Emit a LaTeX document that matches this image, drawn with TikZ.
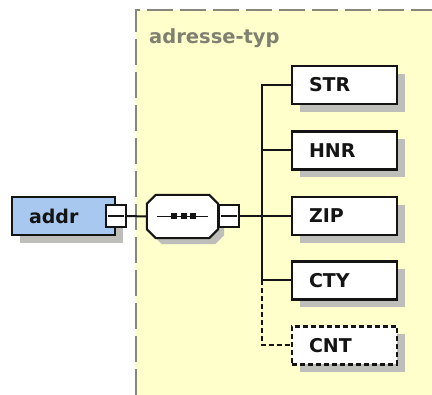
\documentclass[tikz,border=0pt]{standalone}
\usepackage{fontspec}
\setmainfont{DejaVu Sans}
\usetikzlibrary{shadows}
\definecolor{typebg}{RGB}{255,255,204}
\definecolor{typeframe}{RGB}{135,135,125}
\definecolor{titlegray}{RGB}{128,128,112}
\definecolor{elemblue}{RGB}{168,200,240}
\definecolor{shadegray}{RGB}{190,190,186}
\definecolor{ink}{RGB}{20,20,20}
\begin{document}
\begin{tikzpicture}[x=1pt,y=-1pt,
  labelfont/.style={font=\bfseries\fontsize{19}{19}\selectfont},
  boxshade/.style={drop shadow={shadow xshift=8pt,shadow yshift=-8pt,fill=shadegray,opacity=1}},
  elem/.style={labelfont,draw=ink,line width=2.2pt,fill=white,text=ink,
    minimum height=38pt,text width=71pt,inner xsep=17pt,align=left,boxshade},
  optelem/.style={elem,dashed,dash pattern=on 5pt off 3pt},
  minusbox/.style={draw=ink,line width=1.8pt,fill=white,minimum width=20pt,
    minimum height=22pt,inner sep=0pt},
  link/.style={draw=ink,line width=2pt},
  optlink/.style={link,dash pattern=on 5pt off 3pt},
  frame/.style={draw=typeframe,line width=1.5pt,dash pattern=on 26pt off 7pt}]
\useasboundingbox (0,0) rectangle (432,395);

% complex type area
\fill[typebg] (136,10) rectangle (432,395);
\draw[frame] (136,395) -- (136,10) -- (432,10);
\node[font=\bfseries\fontsize{19.5}{19.5}\selectfont,text=titlegray,anchor=base west,inner sep=0pt]
  (title) at (149,44) {adresse-typ};

% root element
\node[elem,fill=elemblue,text width=69pt,minimum height=38pt] (addr) at (63.5,216) {addr};
\node[minusbox] (addrm) at (116,216) {};
\draw[link] ([xshift=3pt]addrm.west) -- ([xshift=-3pt]addrm.east);

% sequence compositor
\node[minimum width=71pt,minimum height=43pt,inner sep=0pt] (seq) at (182.5,216.5) {};
\draw[line width=2pt,draw=ink,fill=white,
  drop shadow={shadow xshift=6pt,shadow yshift=-6pt,fill=shadegray,opacity=1}]
  ([xshift=9pt]seq.north west) -- ([xshift=-9pt]seq.north east)
  -- ([yshift=-9pt]seq.north east) -- ([yshift=9pt]seq.south east)
  -- ([xshift=-9pt]seq.south east) -- ([xshift=9pt]seq.south west)
  -- ([yshift=9pt]seq.south west) -- ([yshift=-9pt]seq.north west) -- cycle;
\draw[link,line width=1.6pt] ([xshift=10pt]seq.west) -- ([xshift=-10pt]seq.east);
\foreach \cx in {174,183.5,193}
  \fill[ink] (\cx-3,216-3) rectangle (\cx+3,216+3);
\node[minusbox] (seqm) at (229,216) {};
\draw[link,line width=1.6pt] ([xshift=3pt]seqm.west) -- ([xshift=-3pt]seqm.east);

% child elements
\node[elem] (str) at (344.5,85) {STR};
\node[elem] (hnr) at (344.5,150.5) {HNR};
\node[elem] (zip) at (344.5,216) {ZIP};
\node[elem] (cty) at (344.5,280.5) {CTY};
\node[optelem] (cnt) at (344.5,345.5) {CNT};

% connectors
\coordinate (trunk) at (262,0);
\draw[link] (addrm.east) -- (seq.west);
\draw[link] (seqm.east) -- (zip.west);
\draw[link] (str.west) -- (str.west -| trunk) |- (cty.west);
\draw[link] (hnr.west) -- (hnr.west -| trunk);
\draw[optlink] (cty.west -| trunk) |- (cnt.west);
\end{tikzpicture}
\end{document}
